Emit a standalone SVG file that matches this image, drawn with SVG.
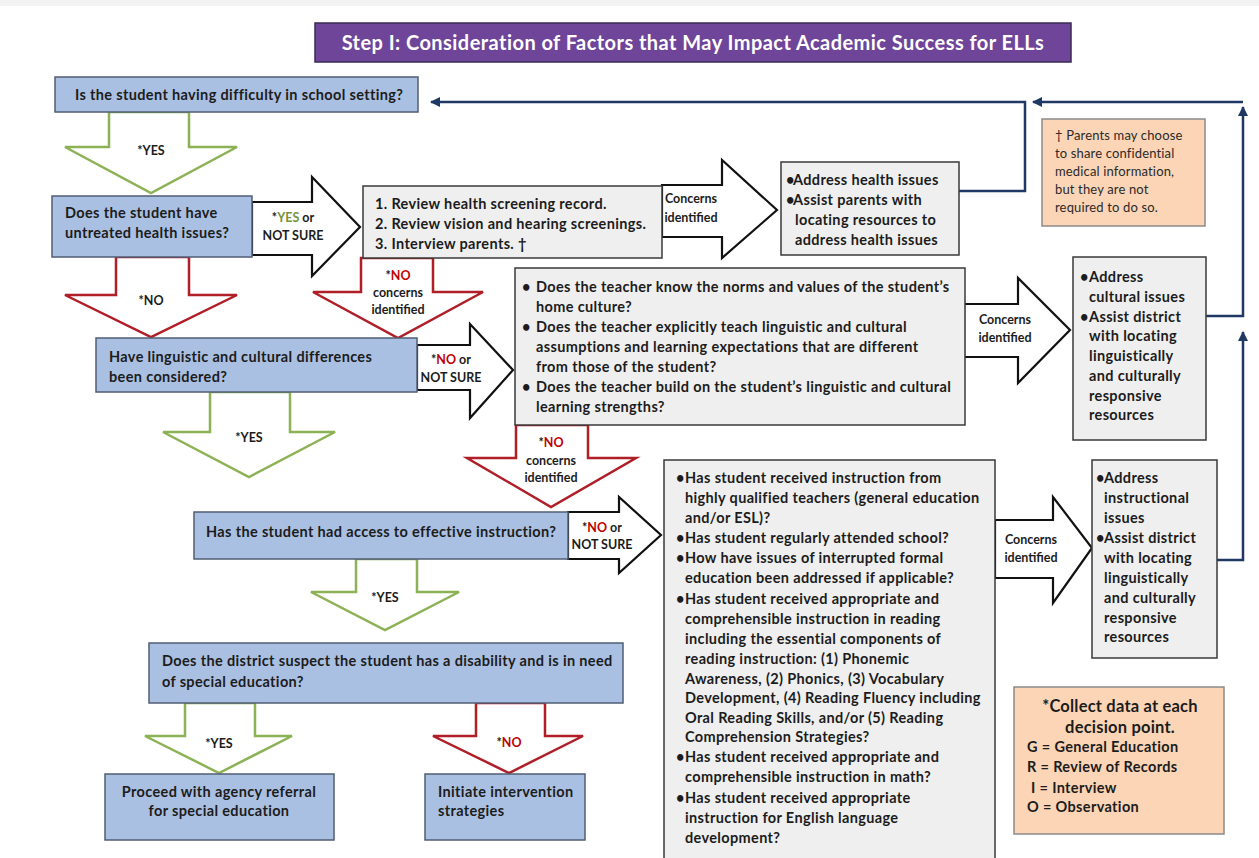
<svg xmlns="http://www.w3.org/2000/svg" width="1259" height="858" viewBox="0 0 1259 858">
<defs>
<style>
text{font-family:Lato,"Liberation Sans",sans-serif;fill:#1c1c1c}
.b{font-weight:700;font-size:14.5px;letter-spacing:0.35px}
.t{font-weight:700;font-size:20px;letter-spacing:0.45px;fill:#ffffff}
.s{font-weight:700;font-size:12.5px}
.n{font-weight:400;font-size:13px;letter-spacing:0.15px;fill:#2a2a2a}
.big{font-weight:700;font-size:16.5px;letter-spacing:0.2px}
.c{text-anchor:middle}
.g{fill:#77933c}
.r{fill:#c00000}
.blue{fill:#aac0e2;stroke:#505e74;stroke-width:1.5}
.gray{fill:#efefef;stroke:#3a3a3a;stroke-width:1.5}
.peach{fill:#fbd5b5;stroke:#8a8a8a;stroke-width:1.5}
.ag{fill:#ffffff;stroke:#8db255;stroke-width:2.5;stroke-linejoin:miter}
.ar{fill:#ffffff;stroke:#b01e28;stroke-width:2.5;stroke-linejoin:miter}
.ak{fill:#ffffff;stroke:#111111;stroke-width:2.2;stroke-linejoin:miter}
.con{fill:none;stroke:#1f3864;stroke-width:2.5}
</style>
<marker id="ah" viewBox="0 0 10 10" refX="9" refY="5" markerWidth="4" markerHeight="4" orient="auto" markerUnits="strokeWidth">
<path d="M0,0 L10,5 L0,10 z" fill="#1f3864"/>
</marker>
</defs>
<rect x="0" y="0" width="1259" height="858" fill="#ffffff"/>
<rect x="0" y="0" width="1259" height="6" fill="#f3f3f3"/>

<g id="title">
<rect x="315" y="23" width="756" height="39" fill="#6e4598" stroke="#3a2a55" stroke-width="1.5"/>
<text class="t c" x="693" y="50">Step I: Consideration of Factors that May Impact Academic Success for ELLs</text>
</g>

<g id="connectors">
<path class="con" d="M959,191 H1025 V102 H431" marker-end="url(#ah)"/>
<path class="con" d="M1206,316 H1243 V107" marker-end="url(#ah)"/>
<path class="con" d="M1243,102 H1033" marker-end="url(#ah)"/>
<path class="con" d="M1217,560 H1243 V332" marker-end="url(#ah)"/>
</g>

<g id="arrows">
<g id="arrow-yes-1"><polygon class="ag" points="109,112 189,112 189,147 237,147 151,193 65,147 109,147"/><text class="s c" x="151" y="155">*YES</text></g>
<g id="arrow-no-1"><polygon class="ar" points="116,257 189,257 189,295 237,295 151,337 65,295 116,295"/><text class="s c" x="151" y="305">*NO</text></g>
<g id="arrow-no-2"><polygon class="ar" points="361,258 433,258 433,292 483,292 398,338 313,292 361,292"/><text class="s c" x="398" y="280">*<tspan class="r">NO</tspan></text><text class="s c" x="398" y="297">concerns</text><text class="s c" x="398" y="314">identified</text></g>
<g id="arrow-yes-2"><polygon class="ag" points="210,392 290,392 290,432 335,432 249,477 163,432 210,432"/><text class="s c" x="249" y="442">*YES</text></g>
<g id="arrow-no-3"><polygon class="ar" points="516,425 588,425 588,458 636,458 551,507 467,458 516,458"/><text class="s c" x="551" y="447">*<tspan class="r">NO</tspan></text><text class="s c" x="551" y="465">concerns</text><text class="s c" x="551" y="482">identified</text></g>
<g id="arrow-yes-3"><polygon class="ag" points="356,559 417,559 417,592 459,592 385,630 311,592 356,592"/><text class="s c" x="385" y="602">*YES</text></g>
<g id="arrow-yes-4"><polygon class="ag" points="185,703 255,703 255,736 292,736 219,773 145,736 185,736"/><text class="s c" x="219" y="748">*YES</text></g>
<g id="arrow-no-4"><polygon class="ar" points="476,703 545,703 545,736 583,736 509,773 433,736 476,736"/><text class="s c" x="509" y="747">*<tspan class="r">NO</tspan></text></g>

<g id="arrow-r1"><polygon class="ak" points="252,202 312,202 312,177 360,227 312,276 312,255 252,255"/><text class="s c" x="293" y="222">*<tspan class="g">YES</tspan> or</text><text class="s c" x="293" y="240">NOT SURE</text></g>
<g id="arrow-r2"><polygon class="ak" points="662,185 722,185 722,160 777,210 722,258 722,237 662,237"/><text class="s c" x="691" y="203">Concerns</text><text class="s c" x="691" y="222">identified</text></g>
<g id="arrow-r3"><polygon class="ak" points="417,345 470,345 470,324 513,370 470,418 470,390 417,390"/><text class="s c" x="451" y="364">*<tspan class="r">NO</tspan> or</text><text class="s c" x="451" y="382">NOT SURE</text></g>
<g id="arrow-r4"><polygon class="ak" points="964,304 1018,304 1018,278 1070,330 1018,383 1018,357 964,357"/><text class="s c" x="1005" y="324">Concerns</text><text class="s c" x="1005" y="342">identified</text></g>
<g id="arrow-r5"><polygon class="ak" points="568,512 619,512 619,497 661,535 619,573 619,559 568,559"/><text class="s c" x="602" y="532">*<tspan class="r">NO</tspan> or</text><text class="s c" x="602" y="549">NOT SURE</text></g>
<g id="arrow-r6"><polygon class="ak" points="995,520 1053,520 1053,497 1092,548 1053,603 1053,578 995,578"/><text class="s c" x="1031" y="544">Concerns</text><text class="s c" x="1031" y="562">identified</text></g>
</g>

<g id="node-a">
<rect class="blue" x="55" y="77" width="363" height="35"/>
<text class="b" x="75" y="100">Is the student having difficulty in school setting?</text>
</g>

<g id="node-b">
<rect class="blue" x="52" y="196" width="200" height="61"/>
<text class="b" x="65" y="218">Does the student have</text>
<text class="b" x="65" y="238">untreated health issues?</text>
</g>

<g id="node-c">
<rect class="gray" x="363" y="186" width="299" height="72"/>
<text class="b" x="375" y="209">1. Review health screening record.</text>
<text class="b" x="375" y="229">2. Review vision and hearing screenings.</text>
<text class="b" x="375" y="249">3. Interview parents. †</text>
</g>

<g id="node-d">
<rect class="gray" x="781" y="162" width="178" height="93"/>
<text class="b" x="786" y="185">•</text><text class="b" x="793" y="185">Address health issues</text>
<text class="b" x="786" y="205">•</text><text class="b" x="793" y="205">Assist parents with</text>
<text class="b" x="795" y="225">locating resources to</text>
<text class="b" x="795" y="245">address health issues</text>
</g>

<g id="node-note">
<rect class="peach" x="1042" y="119" width="163" height="107"/>
<text class="n" x="1055" y="140">† Parents may choose</text>
<text class="n" x="1055" y="158">to share confidential</text>
<text class="n" x="1055" y="176">medical information,</text>
<text class="n" x="1055" y="194">but they are not</text>
<text class="n" x="1055" y="212">required to do so.</text>
</g>

<g id="node-e">
<rect class="blue" x="96" y="338" width="321" height="54"/>
<text class="b" x="109" y="362">Have linguistic and cultural differences</text>
<text class="b" x="109" y="382">been considered?</text>
</g>

<g id="node-f">
<rect class="gray" x="515" y="268" width="450" height="157"/>
<text class="b" x="522" y="292">•</text><text class="b" x="536" y="292">Does the teacher know the norms and values of the student’s</text>
<text class="b" x="536" y="312">home culture?</text>
<text class="b" x="522" y="332">•</text><text class="b" x="536" y="332">Does the teacher explicitly teach linguistic and cultural</text>
<text class="b" x="536" y="352">assumptions and learning expectations that are different</text>
<text class="b" x="536" y="372">from those of the student?</text>
<text class="b" x="522" y="392">•</text><text class="b" x="536" y="392">Does the teacher build on the student’s linguistic and cultural</text>
<text class="b" x="536" y="412">learning strengths?</text>
</g>

<g id="node-g">
<rect class="gray" x="1073" y="257" width="133" height="183"/>
<text class="b" x="1080" y="282">•</text><text class="b" x="1089" y="282">Address</text>
<text class="b" x="1089" y="302">cultural issues</text>
<text class="b" x="1080" y="322">•</text><text class="b" x="1089" y="322">Assist district</text>
<text class="b" x="1089" y="341">with locating</text>
<text class="b" x="1089" y="361">linguistically</text>
<text class="b" x="1089" y="381">and culturally</text>
<text class="b" x="1089" y="401">responsive</text>
<text class="b" x="1089" y="420">resources</text>
</g>

<g id="node-h">
<rect class="blue" x="194" y="512" width="374" height="47"/>
<text class="b" x="206" y="537">Has the student had access to effective instruction?</text>
</g>

<g id="node-i">
<rect class="gray" x="664" y="460" width="331" height="410"/>
<text class="b" x="676" y="483">•</text><text class="b" x="685" y="483">Has student received instruction from</text>
<text class="b" x="685" y="503">highly qualified teachers (general education</text>
<text class="b" x="685" y="523">and/or ESL)?</text>
<text class="b" x="676" y="543">•</text><text class="b" x="685" y="543">Has student regularly attended school?</text>
<text class="b" x="676" y="563">•</text><text class="b" x="685" y="563">How have issues of interrupted formal</text>
<text class="b" x="685" y="583">education been addressed if applicable?</text>
<text class="b" x="676" y="604">•</text><text class="b" x="685" y="604">Has student received appropriate and</text>
<text class="b" x="685" y="624">comprehensible instruction in reading</text>
<text class="b" x="685" y="644">including the essential components of</text>
<text class="b" x="685" y="664">reading instruction: (1) Phonemic</text>
<text class="b" x="685" y="684">Awareness, (2) Phonics, (3) Vocabulary</text>
<text class="b" x="685" y="703">Development, (4) Reading Fluency including</text>
<text class="b" x="685" y="723">Oral Reading Skills, and/or (5) Reading</text>
<text class="b" x="685" y="742">Comprehension Strategies?</text>
<text class="b" x="676" y="762">•</text><text class="b" x="685" y="762">Has student received appropriate and</text>
<text class="b" x="685" y="782">comprehensible instruction in math?</text>
<text class="b" x="676" y="803">•</text><text class="b" x="685" y="803">Has student received appropriate</text>
<text class="b" x="685" y="823">instruction for English language</text>
<text class="b" x="685" y="843">development?</text>
</g>

<g id="node-j">
<rect class="gray" x="1092" y="460" width="125" height="198"/>
<text class="b" x="1096" y="483">•</text><text class="b" x="1104" y="483">Address</text>
<text class="b" x="1104" y="503">instructional</text>
<text class="b" x="1104" y="523">issues</text>
<text class="b" x="1096" y="543">•</text><text class="b" x="1104" y="543">Assist district</text>
<text class="b" x="1104" y="563">with locating</text>
<text class="b" x="1104" y="583">linguistically</text>
<text class="b" x="1104" y="603">and culturally</text>
<text class="b" x="1104" y="623">responsive</text>
<text class="b" x="1104" y="642">resources</text>
</g>

<g id="node-k">
<rect class="blue" x="149" y="643" width="474" height="60"/>
<text class="b" x="162" y="666">Does the district suspect the student has a disability and is in need</text>
<text class="b" x="162" y="687">of special education?</text>
</g>

<g id="node-l">
<rect class="blue" x="105" y="774" width="229" height="66"/>
<text class="b c" x="219" y="797">Proceed with agency referral</text>
<text class="b c" x="219" y="816">for special education</text>
</g>

<g id="node-m">
<rect class="blue" x="425" y="774" width="160" height="66"/>
<text class="b" x="438" y="797">Initiate intervention</text>
<text class="b" x="438" y="816">strategies</text>
</g>

<g id="node-legend">
<rect class="peach" x="1014" y="687" width="210" height="147"/>
<text class="big c" x="1120" y="712">*Collect data at each</text>
<text class="big c" x="1120" y="733">decision point.</text>
<text class="b" x="1027" y="752">G = General Education</text>
<text class="b" x="1027" y="772">R = Review of Records</text>
<text class="b" x="1031" y="793"> I = Interview</text>
<text class="b" x="1027" y="812">O = Observation</text>
</g>
</svg>
